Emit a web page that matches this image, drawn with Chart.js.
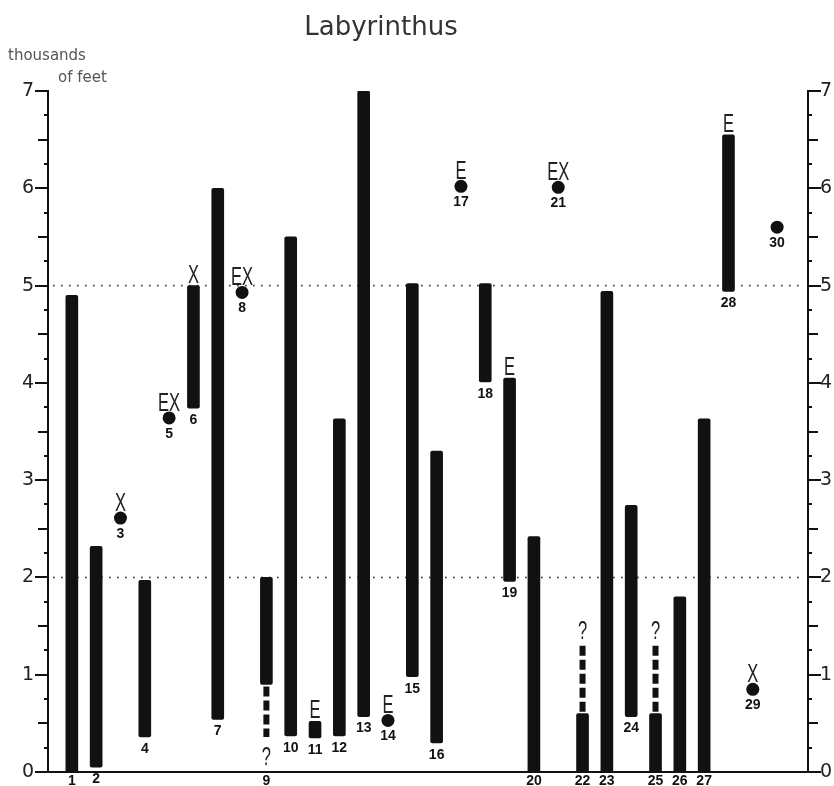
<!DOCTYPE html>
<html>
<head>
<meta charset="utf-8">
<script src="https://cdn.jsdelivr.net/npm/chart.js@4.4.0/dist/chart.umd.min.js"></script>
<style>
  body { margin: 0; background: #fff; }
</style>
</head>
<body>
<canvas id="chart" width="834" height="786"></canvas>
<script>
// elevation ranges, thousands of feet
const barIds  = [1, 2, 4, 6, 7, 9, 10, 11, 12, 13, 15, 16, 18, 19, 20, 22, 23, 24, 25, 26, 27, 28];
const barLow  = [0, 0.05, 0.36, 3.74, 0.54, 0.9, 0.37, 0.35, 0.37, 0.57, 0.98, 0.3, 4.01, 1.96, 0, 0, 0, 0.57, 0, 0, 0, 4.94];
const barHigh = [4.9, 2.32, 1.97, 5.0, 6.0, 2.0, 5.5, 0.52, 3.63, 7.0, 5.02, 3.3, 5.02, 4.05, 2.42, 0.6, 4.94, 2.74, 0.6, 1.8, 3.63, 6.55];

// single records
const dotIds    = [3, 5, 8, 14, 17, 21, 29, 30];
const dotValues = [2.61, 3.64, 4.93, 0.53, 6.02, 6.01, 0.85, 5.6];

// uncertain extensions
const dashIds  = [9, 22, 25];
const dashFrom = [0.88, 0.62, 0.62];
const dashTo   = [0.36, 1.33, 1.33];

const noteIds   = [3, 5, 6, 8, 11, 14, 17, 19, 21, 28, 29];
const noteTexts = ['X', 'EX', 'X', 'EX', 'E', 'E', 'E', 'E', 'EX', 'E', 'X'];

const refLines = [2, 5];

function narrowText(ctx, text, x, y, baseline) {
  ctx.save();
  ctx.translate(x, y);
  ctx.scale(0.66, 1);
  ctx.textAlign = 'center';
  ctx.textBaseline = baseline;
  ctx.fillText(text, 0, 0);
  ctx.restore();
}

const extras = {
  id: 'extras',
  beforeDatasetsDraw(chart) {
    const {ctx, chartArea: a, scales: {y}} = chart;
    ctx.save();
    ctx.fillStyle = '#444';
    refLines.forEach(v => {
      const py = y.getPixelForValue(v);
      for (let px = a.left + 5; px < a.right - 3; px += 8) {
        ctx.fillRect(px, py - 0.8, 1.7, 1.7);
      }
    });
    ctx.restore();
  },
  afterDraw(chart) {
    const {ctx, chartArea: a, scales: {x, y}} = chart;
    ctx.save();
    ctx.fillStyle = '#111';

    // tick marks on both axes
    for (let v = 0; v <= 7.001; v += 0.25) {
      const py = Math.round(y.getPixelForValue(v));
      const whole = Math.abs(v - Math.round(v)) < 0.01;
      const half = Math.abs(v * 2 - Math.round(v * 2)) < 0.01;
      const len = whole ? 13 : (half ? 10 : 4);
      ctx.fillRect(a.left - len, py - 1, len, 2);
      ctx.fillRect(a.right, py - 1, len, 2);
    }

    // numbers under each record
    ctx.font = 'bold 14px "Liberation Sans"';
    ctx.textAlign = 'center';
    ctx.textBaseline = 'middle';
    const axisY = y.getPixelForValue(0);
    barIds.forEach((id, i) => {
      const d = dashIds.indexOf(id);
      const goesDown = d >= 0 && dashTo[d] < dashFrom[d];
      const py = (barLow[i] === 0 || goesDown) ? axisY + 9 : y.getPixelForValue(barLow[i]) + 12;
      ctx.fillText(String(id), x.getPixelForValue(id), py);
    });
    dotIds.forEach((id, i) => {
      ctx.fillText(String(id), x.getPixelForValue(id), y.getPixelForValue(dotValues[i]) + 16);
    });

    // letters above
    ctx.font = '25px "Liberation Sans"';
    ctx.fillStyle = '#222';
    noteIds.forEach((id, i) => {
      const b = barIds.indexOf(id);
      const py = b >= 0 ? y.getPixelForValue(barHigh[b]) - 3 : y.getPixelForValue(dotValues[dotIds.indexOf(id)]) - 7;
      narrowText(ctx, noteTexts[i], x.getPixelForValue(id), py, 'alphabetic');
    });
    dashIds.forEach((id, i) => {
      if (dashTo[i] < dashFrom[i]) {
        narrowText(ctx, '?', x.getPixelForValue(id), y.getPixelForValue(dashTo[i]) + 28, 'alphabetic');
      } else {
        narrowText(ctx, '?', x.getPixelForValue(id), y.getPixelForValue(dashTo[i]) - 4, 'alphabetic');
      }
    });

    // titles
    ctx.fillStyle = '#333';
    ctx.font = '26px "DejaVu Sans"';
    ctx.textAlign = 'center';
    ctx.textBaseline = 'middle';
    ctx.fillText('Labyrinthus', 381, 28);
    ctx.fillStyle = '#555';
    ctx.font = '15px "DejaVu Sans"';
    ctx.textAlign = 'left';
    ctx.fillText('thousands', 8, 56);
    ctx.fillText('of feet', 58, 78);
    ctx.restore();
  }
};

const tickFont = {family: 'DejaVu Sans', size: 19};

function fitSide(w) {
  return s => { s.width = w; s.paddingTop = 0; s.paddingBottom = 0; };
}

new Chart(document.getElementById('chart'), {
  type: 'bar',
  data: {
    datasets: [
      {
        type: 'bar',
        data: barIds.map((id, i) => ({x: id, y: [barLow[i], barHigh[i]]})),
        backgroundColor: '#111',
        barThickness: 12,
        borderRadius: 2,
        borderSkipped: false,
        yAxisID: 'y'
      },
      {
        type: 'scatter',
        data: dotIds.map((id, i) => ({x: id, y: dotValues[i]})),
        backgroundColor: '#111',
        pointRadius: 6.5,
        borderWidth: 0,
        yAxisID: 'y'
      },
      ...dashIds.map((id, i) => ({
        type: 'line',
        data: [{x: id, y: dashFrom[i]}, {x: id, y: dashTo[i]}],
        borderColor: '#111',
        borderWidth: 6,
        borderDash: [10, 4],
        borderCapStyle: 'butt',
        pointRadius: 0,
        yAxisID: 'y'
      }))
    ]
  },
  options: {
    responsive: false,
    animation: false,
    layout: {padding: {top: 91, bottom: 14, left: 0, right: 0}},
    plugins: {legend: {display: false}, tooltip: {enabled: false}},
    scales: {
      x: {
        type: 'linear', min: 0.02, max: 31.27, offset: false,
        grid: {display: false, drawTicks: false, offset: false},
        ticks: {display: false},
        border: {display: true, color: '#111', width: 2},
        afterFit(s) { s.height = 0; s.paddingLeft = 0; s.paddingRight = 0; }
      },
      y: {
        position: 'left', min: 0, max: 7,
        ticks: {stepSize: 1, padding: 14, color: '#222', font: tickFont},
        grid: {display: false, drawTicks: false},
        border: {display: true, color: '#111', width: 2},
        afterFit: fitSide(48)
      },
      y2: {
        position: 'right', min: 0, max: 7,
        ticks: {stepSize: 1, padding: 12, color: '#222', font: tickFont},
        grid: {display: false, drawTicks: false},
        border: {display: true, color: '#111', width: 2},
        afterFit: fitSide(26)
      }
    }
  },
  plugins: [extras]
});
</script>
</body>
</html>
